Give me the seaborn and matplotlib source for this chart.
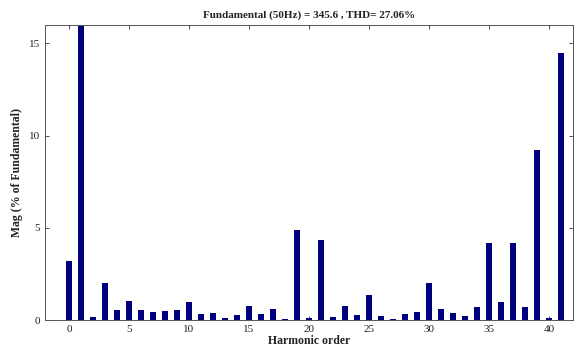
import matplotlib
matplotlib.use("Agg")
import matplotlib.pyplot as plt
import seaborn as sns
import pandas as pd

harmonic_order = list(range(0, 42))
magnitude = [3.2, 100.0, 0.18, 2.0, 0.54, 1.03, 0.54, 0.43, 0.5, 0.54,
             0.99, 0.32, 0.4, 0.13, 0.25, 0.77, 0.3, 0.61, 0.07, 4.9,
             0.1, 4.32, 0.15, 0.77, 0.25, 1.37, 0.2, 0.04, 0.3, 0.45,
             2.0, 0.61, 0.36, 0.2, 0.7, 4.2, 0.95, 4.2, 0.7, 9.22,
             0.1, 14.47]
title_text = "Fundamental (50Hz) = 345.6 , THD= 27.06%"
x_label = "Harmonic order"
y_label = "Mag (% of Fundamental)"
x_ticks = [0, 5, 10, 15, 20, 25, 30, 35, 40]
y_ticks = [0, 5, 10, 15]

df = pd.DataFrame({"order": harmonic_order, "mag": magnitude})

sns.set_theme(style="ticks")
plt.rcParams["font.family"] = ["Liberation Serif", "DejaVu Serif"]

fig = plt.figure(figsize=(5.77, 3.51), dpi=100)
ax = fig.add_axes([45/577, 31/351, (573-45)/577, (326-31)/351])

sns.barplot(data=df, x="order", y="mag", native_scale=True, width=0.5,
            color="#00007F", saturation=1, ax=ax, errorbar=None,
            linewidth=0, edgecolor="none")

ax.set_xlim(-2, 42)
ax.set_ylim(0, 16)
ax.set_xticks(x_ticks)
ax.set_yticks(y_ticks)
ax.tick_params(direction="in", length=3, width=0.6, labelsize=8,
               top=True, right=True, colors="#333333", labelcolor="#222222")
for s in ax.spines.values():
    s.set_linewidth(0.7)
    s.set_color("#555555")
    s.set_visible(True)

ax.set_title(title_text, fontsize=8, fontweight="bold", pad=5, color="#222222")
ax.set_xlabel(x_label, fontsize=8.5, fontweight="bold", labelpad=1, color="#222222")
ax.set_ylabel(y_label, fontsize=8.5, fontweight="bold", labelpad=4, color="#222222")

fig.savefig("out.png", dpi=100)
